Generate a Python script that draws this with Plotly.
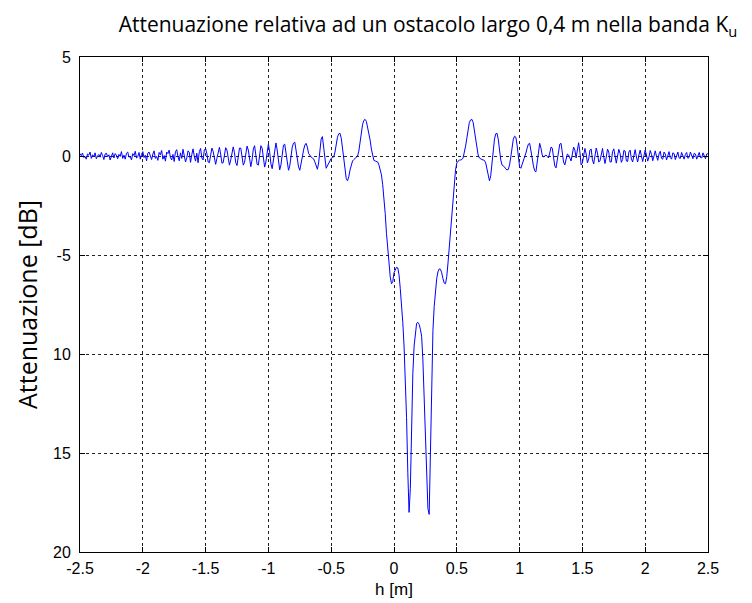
import plotly.graph_objects as go

# Sampling grid of the curve (metres)
h_start = -2.5
h_step = 0.01

# Attenuation values in dB, one row per 0.1 m
att_db = [
    # -2.50 .. -2.41
    0.12, 0.02, 0.15, -0.08, -0.02, -0.16, 0.10, 0.04, 0.20, -0.12,
    0.06, -0.04, 0.16, -0.14, 0.00, 0.08, -0.06, 0.18, 0.02, -0.18,
    0.10, 0.14, -0.04, 0.06, -0.20, 0.00, 0.16, -0.10, 0.12, 0.04,
    -0.14, 0.08, -0.02, 0.22, -0.12, 0.04, -0.16, 0.14, 0.20, -0.06,
    -0.02, -0.20, 0.12, 0.02, 0.24, -0.10, -0.04, 0.18, -0.16, 0.08,
    # -2.00 .. -1.91
    0.22, -0.08, 0.04, -0.24, 0.14, 0.20, -0.02, -0.18, 0.10, 0.26,
    -0.12, -0.02, -0.22, 0.18, 0.06, 0.28, -0.16, 0.02, -0.26, 0.20,
    0.12, 0.30, -0.08, -0.20, 0.08, -0.28, 0.22, 0.32, -0.04, -0.24,
    0.16, -0.12, 0.34, 0.04, -0.30, -0.10, 0.26, 0.18, -0.32, 0.06,
    0.36, -0.02, -0.26, 0.14, -0.34, 0.22, 0.38, -0.10, -0.20, 0.30,
    # -1.50 .. -1.41
    0.38, 0.12, -0.30, -0.34, 0.04, 0.40, 0.24, -0.20, -0.42, -0.12,
    0.26, 0.44, 0.10, -0.36, -0.34, 0.06, 0.42, 0.30, -0.22, -0.46,
    -0.20, 0.26, 0.46, 0.16, -0.34, -0.48, -0.04, 0.40, 0.40, -0.08,
    -0.46, -0.32, 0.14, 0.50, 0.30, -0.24, -0.54, -0.20, 0.36, 0.52,
    0.08, -0.42, -0.46, 0.02, 0.52, 0.40, -0.16, -0.56, -0.30, 0.30,
    # -1.00 .. -0.91
    0.60, 0.20, -0.40, -0.64, -0.20, 0.40, 0.66, 0.30, -0.35, -0.70,
    -0.45, 0.10, 0.55, 0.60, 0.20, -0.40, -0.72, -0.50, 0.05, 0.45,
    # -0.80 .. -0.71
    0.65, 0.70, 0.30, -0.15, -0.55, -0.72, -0.45, -0.05, 0.30, 0.55,
    0.64, 0.45, 0.13, 0.02, -0.05, -0.10, -0.14, -0.30, -0.55, -0.67,
    -0.35, 0.25, 0.85, 0.98, 0.55, -0.10, -0.62, -0.50, -0.30, -0.20,
    -0.12, -0.08, -0.05, 0.20, 0.60, 0.95, 1.12, 1.15, 0.90, 0.40,
    -0.20, -0.75, -1.15, -1.25, -1.05, -0.70, -0.42, -0.25, -0.18, -0.10,
    # -0.30 .. -0.21
    -0.04, 0.00, 0.25, 0.70, 1.20, 1.60, 1.80, 1.85, 1.75, 1.45,
    1.10, 0.80, 0.35, -0.05, -0.22, -0.25, -0.26, -0.30, -0.45, -0.65,
    -0.95, -1.45, -2.10, -2.90, -3.90, -4.80, -5.50, -6.10, -6.45, -6.35,
    # 0.00 .. 0.09
    -5.90, -5.70, -5.62, -5.65, -6.00, -6.70, -7.40, -8.40, -9.60, -11.0,
    -13.2, -16.0, -18.0, -16.8, -13.5, -11.0, -9.60, -8.80, -8.45, -8.40,
    -8.50, -8.75, -9.10, -10.3, -12.0, -14.0, -16.2, -17.8, -18.1, -14.5,
    -10.3, -8.80, -7.60, -6.80, -6.20, -5.85, -5.70, -5.72, -5.90, -6.20,
    -6.42, -6.45, -6.10, -5.40, -4.60, -3.60, -2.70, -1.90, -1.20, -0.70,
    # 0.50 .. 0.59
    -0.35, -0.25, -0.20, -0.20, -0.18, -0.10, 0.15, 0.50, 0.90, 1.35,
    1.70, 1.82, 1.85, 1.70, 1.30, 0.85, 0.40, 0.05, -0.10, -0.15,
    -0.18, -0.20, -0.22, -0.35, -0.70, -1.10, -1.25, -1.00, -0.40, 0.30,
    0.85, 1.12, 1.15, 0.85, 0.30, -0.20, -0.45, -0.50, -0.55, -0.65,
    -0.70, -0.68, -0.45, -0.05, 0.45, 0.85, 1.00, 0.95, 0.55, -0.05,
    # 1.00 .. 1.09
    -0.55, -0.62, -0.45, -0.20, -0.05, 0.15, 0.40, 0.60, 0.64, 0.35,
    -0.10, -0.50, -0.75, -0.80, -0.30, 0.35, 0.64, 0.40, 0.05, -0.05,
    0.00, 0.05, -0.02, -0.10, 0.15, 0.45, 0.40, -0.05, -0.50, -0.60,
    -0.15, 0.35, 0.60, 0.64, 0.20, -0.30, -0.45, -0.20, 0.10, 0.05,
    -0.15, -0.25, 0.10, 0.45, 0.30, -0.10, 0.30, 0.67, 0.20, -0.45,
    # 1.50 .. 1.59
    -0.35, 0.05, 0.38, 0.10, -0.35, -0.15, 0.30, 0.35, -0.20, -0.40,
    0.05, 0.40, 0.15, -0.30, -0.25, 0.20, 0.38, -0.05, -0.38, -0.05,
    0.35, 0.20, -0.30, -0.30, 0.22, 0.36, -0.10, -0.36, 0.00, 0.34,
    0.12, -0.32, -0.18, 0.28, 0.25, -0.25, -0.28, 0.20, 0.30, -0.15,
    -0.30, 0.10, 0.32, -0.05, -0.30, 0.05, 0.30, 0.00, -0.28, 0.02,
    # 2.00 .. 2.09
    0.30, 0.05, -0.26, -0.05, 0.28, 0.08, -0.24, 0.00, 0.26, -0.02,
    -0.22, 0.10, 0.24, -0.12, -0.16, 0.20, 0.10, -0.20, 0.04, 0.22,
    -0.08, -0.16, 0.16, 0.12, -0.18, 0.02, 0.20, -0.10, -0.12, 0.18,
    0.04, -0.16, 0.08, 0.18, -0.12, -0.06, 0.20, -0.02, -0.14, 0.14,
    0.10, -0.16, 0.04, 0.18, -0.08, -0.10, 0.16, 0.04, -0.14, 0.10,
    # 2.50
    0.12,
]

h_m = [round(h_start + i * h_step, 3) for i in range(len(att_db))]

x_ticks = [-2.5, -2, -1.5, -1, -0.5, 0, 0.5, 1, 1.5, 2, 2.5]
x_tick_labels = ["-2.5", "-2", "-1.5", "-1", "-0.5", "0", "0.5", "1", "1.5", "2", "2.5"]
y_ticks = [5, 0, -5, -10, -15, -20]
y_tick_labels = ["5", "0", "-5", "10", "15", "20"]

fig = go.Figure()
fig.add_trace(go.Scatter(x=h_m, y=att_db, mode="lines",
                         line=dict(color="#0000FF", width=1), showlegend=False))

axis_common = dict(
    showline=True, linecolor="black", linewidth=1, mirror="ticks",
    ticks="inside", ticklen=5, tickcolor="black",
    showgrid=True, gridcolor="#222222", gridwidth=1, griddash="3px,3px",
    zeroline=False,
    tickfont=dict(family="Liberation Sans, Arial, sans-serif", size=16, color="black"),
)

fig.update_layout(
    width=752, height=603,
    margin=dict(l=72, r=52, t=49, b=59),
    paper_bgcolor="white", plot_bgcolor="white",
    title=dict(text="Attenuazione relativa ad un ostacolo largo 0,4 m nella banda K<sub>u</sub>",
               x=420 / 752, xanchor="center", y=1 - 17 / 603, yanchor="middle",
               font=dict(family="Open Sans, sans-serif", size=21, color="black")),
    xaxis=dict(range=[-2.5, 2.5], tickvals=x_ticks, ticktext=x_tick_labels,
               ticklabelstandoff=2,
               title=dict(text="h [m]", standoff=6,
                          font=dict(family="Liberation Sans, Arial, sans-serif", size=17, color="black")),
               **axis_common),
    yaxis=dict(range=[-20, 5], tickvals=y_ticks, ticktext=y_tick_labels,
               ticklabelstandoff=5,
               title=dict(text="Attenuazione [dB]", standoff=8,
                          font=dict(family="Open Sans, sans-serif", size=25, color="black")),
               **axis_common),
)

fig.write_html("out.html")
